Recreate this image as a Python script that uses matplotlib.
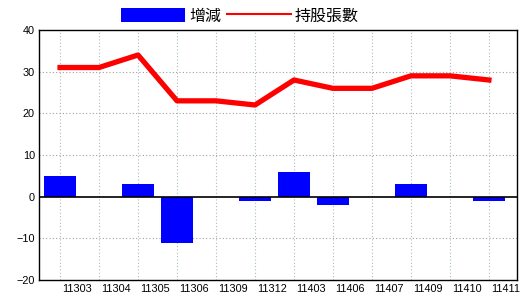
import matplotlib
matplotlib.use('Agg')
import matplotlib.pyplot as plt
import matplotlib.patches as mpatches
import matplotlib.lines as mlines
import matplotlib.transforms as mtransforms
import numpy as np

plt.rcParams['font.family'] = ['Liberation Sans', 'Noto Sans CJK TC', 'DejaVu Sans']

periods = ['11303', '11304', '11305', '11306', '11309', '11312',
           '11403', '11406', '11407', '11409', '11410', '11411']
change = [5, 0, 3, -11, 0, -1, 6, -2, 0, 3, 0, -1]
holdings = [31, 31, 34, 23, 23, 22, 28, 26, 26, 29, 29, 28]
y_ticks = [-20, -10, 0, 10, 20, 30, 40]

BAR_COLOR = '#0000FF'
LINE_COLOR = '#FF0000'

fig = plt.figure(figsize=(5.2, 3.0), dpi=100)
ax = fig.add_axes([39 / 520, 20 / 300, 478 / 520, 250 / 300])

x = np.arange(len(periods))

# grid
for xi in x:
    ax.axvline(xi, color='#a8bccb', linestyle=(0, (1, 2)), linewidth=0.8, zorder=0)
for yv in y_ticks:
    if yv not in (-20, 0, 40):
        ax.axhline(yv, color='#a0a0a0', linestyle=(0, (1, 2)), linewidth=0.8, zorder=0)
ax.axhline(0, color='black', linewidth=1.2, zorder=3)

ax.bar(x, change, width=0.82, color=BAR_COLOR, zorder=2)
ax.plot(x, holdings, color=LINE_COLOR, linewidth=3.8, zorder=4)

ax.set_xlim(-0.54, 11.72)
ax.set_ylim(-20, 40)
ax.set_yticks(y_ticks)
ax.set_xticks(x)
ax.set_xticklabels(periods)
ax.tick_params(axis='both', length=0, labelsize=7.8, colors='black')
ax.tick_params(axis='y', pad=3)
ax.tick_params(axis='x', pad=3)
offset = mtransforms.ScaledTranslation(2 / 100, 0, fig.dpi_scale_trans)
for lab in ax.get_xticklabels():
    lab.set_horizontalalignment('left')
    lab.set_transform(lab.get_transform() + offset)
for sp in ax.spines.values():
    sp.set_color('black')
    sp.set_linewidth(1.0)

handles = [
    mpatches.Patch(facecolor=BAR_COLOR, edgecolor='none', label='增減'),
    mlines.Line2D([], [], color=LINE_COLOR, linewidth=1.5, label='持股張數'),
]
fig.legend(handles=handles, loc='center', bbox_to_anchor=(240 / 520, 1 - 16 / 300),
           ncol=2, frameon=False, fontsize=11.5, handlelength=4.0, handleheight=1.0,
           handletextpad=0.25, columnspacing=0.35, borderpad=0)

fig.savefig('out.png', dpi=100)
